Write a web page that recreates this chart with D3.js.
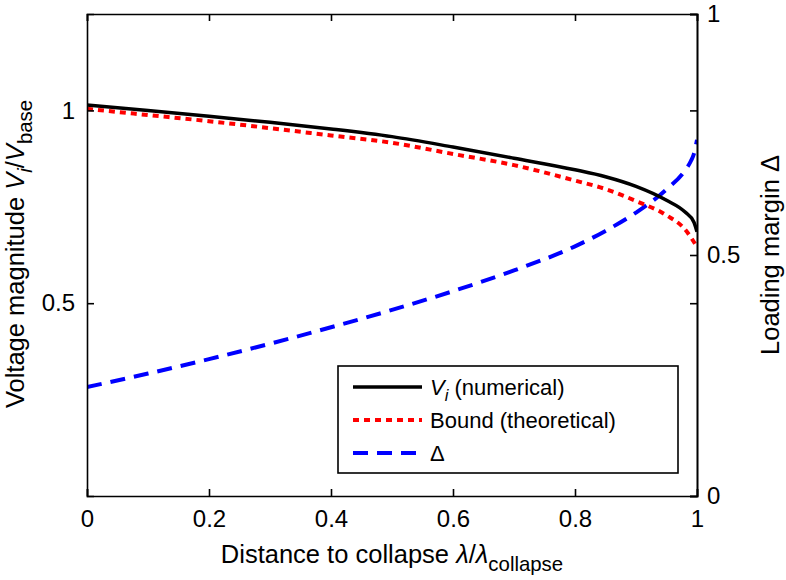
<!DOCTYPE html>
<html>
<head>
<meta charset="utf-8">
<script src="https://cdn.jsdelivr.net/npm/d3@7"></script>
<style>
  html, body { margin: 0; padding: 0; background: #fff; }
  svg { display: block; font-family: "Liberation Sans", Arial, Helvetica, sans-serif; }
</style>
</head>
<body>
<svg id="chart" width="786" height="580"></svg>
<script>
// ---- Data ----
const lambdaVi   = [0, 0.1, 0.2, 0.3, 0.4, 0.5, 0.6, 0.7, 0.8, 0.85, 0.9, 0.95, 0.98, 0.995, 1.0];
const viNumeric  = [1.014, 1.000, 0.985, 0.969, 0.952, 0.932, 0.905, 0.876, 0.846, 0.828, 0.803, 0.767, 0.737, 0.71, 0.685];
const lambdaB    = [0, 0.1, 0.2, 0.3, 0.4, 0.5, 0.6, 0.7, 0.8, 0.85, 0.9, 0.95, 0.98, 1.0];
const boundTheo  = [1.004, 0.988, 0.972, 0.954, 0.935, 0.916, 0.887, 0.858, 0.818, 0.796, 0.765, 0.728, 0.692, 0.646];
const lambdaD    = [0, 0.1, 0.2, 0.3, 0.4, 0.5, 0.6, 0.7, 0.8, 0.85, 0.9, 0.95, 0.98, 0.99, 0.995, 1.0];
const deltaMargin= [0.226, 0.254, 0.284, 0.316, 0.350, 0.386, 0.425, 0.468, 0.518, 0.550, 0.588, 0.636, 0.675, 0.695, 0.710, 0.739];

const xTicks      = [0, 0.2, 0.4, 0.6, 0.8, 1];
const xTickLabels = ["0", "0.2", "0.4", "0.6", "0.8", "1"];
const yLeftTicks  = [0.5, 1];
const yLeftLabels = ["0.5", "1"];
const yRightTicks = [0, 0.5, 1];
const yRightLabels= ["0", "0.5", "1"];
const legendLabels = ["V_i (numerical)", "Bound (theoretical)", "Δ"];

// ---- Layout ----
const svg = d3.select("#chart");
const L = 87, R = 697, T = 14, B = 496;
const FS_TICK = 24, FS_LAB = 25.5, FS_LEG = 22;
const SUB = 0.8;
const x  = d3.scaleLinear().domain([0, 1]).range([L, R]);
const yL = d3.scaleLinear().domain([0, 1.25]).range([B, T]);
const yR = d3.scaleLinear().domain([0, 1]).range([B, T]);

const tickLen = 7;
const axisColor = "#000";

const lineGen = (ys) => d3.line().x(d => x(d[0])).y(d => ys(d[1])).curve(d3.curveMonotoneX);

svg.append("defs").append("clipPath").attr("id", "clip")
  .append("rect").attr("x", L).attr("y", T).attr("width", R - L).attr("height", B - T);

const plot = svg.append("g").attr("clip-path", "url(#clip)");

plot.append("path")
  .datum(lambdaD.map((v, i) => [v, deltaMargin[i]]))
  .attr("d", lineGen(yR))
  .attr("fill", "none").attr("stroke", "#0000ff").attr("stroke-width", 4)
  .attr("stroke-dasharray", "15,9");

plot.append("path")
  .datum(lambdaB.map((v, i) => [v, boundTheo[i]]))
  .attr("d", lineGen(yL))
  .attr("fill", "none").attr("stroke", "#ff0000").attr("stroke-width", 4)
  .attr("stroke-dasharray", "6,5");

plot.append("path")
  .datum(lambdaVi.map((v, i) => [v, viNumeric[i]]))
  .attr("d", lineGen(yL))
  .attr("fill", "none").attr("stroke", "#000").attr("stroke-width", 3.5);

// ---- Axes ----
const gx = svg.append("g").attr("transform", `translate(0,${B})`)
  .call(d3.axisBottom(x).tickValues(xTicks).tickFormat((d, i) => xTickLabels[i]).tickSize(-tickLen).tickPadding(14));
const gxt = svg.append("g").attr("transform", `translate(0,${T})`)
  .call(d3.axisTop(x).tickValues(xTicks).tickFormat("").tickSize(-tickLen));
const gyl = svg.append("g").attr("transform", `translate(${L},0)`)
  .call(d3.axisLeft(yL).tickValues(yLeftTicks).tickFormat((d, i) => yLeftLabels[i]).tickSize(-tickLen).tickPadding(12));
const gyr = svg.append("g").attr("transform", `translate(${R},0)`)
  .call(d3.axisRight(yR).tickValues(yRightTicks).tickFormat((d, i) => yRightLabels[i]).tickSize(-tickLen).tickPadding(10));
const gyl2 = svg.append("g").attr("transform", `translate(${R},0)`)
  .call(d3.axisRight(yL).tickValues(yLeftTicks).tickFormat("").tickSize(-tickLen));

[gx, gxt, gyl, gyr, gyl2].forEach(g => {
  g.select(".domain").attr("stroke", axisColor).attr("stroke-width", 1.6);
  g.selectAll(".tick line").attr("stroke", axisColor).attr("stroke-width", 1.6);
  g.selectAll(".tick text").attr("fill", "#000").attr("font-size", FS_TICK)
    .attr("font-family", "Liberation Sans, Arial, sans-serif");
});
gx.selectAll(".tick text").attr("dy", "0.71em");

// ---- Axis titles ----
const xt = svg.append("text").attr("x", (L + R) / 2).attr("y", 563)
  .attr("text-anchor", "middle").attr("font-size", FS_LAB).attr("fill", "#000");
xt.append("tspan").text("Distance to collapse ");
xt.append("tspan").attr("font-style", "italic").text("λ");
xt.append("tspan").text("/");
xt.append("tspan").attr("font-style", "italic").text("λ");
xt.append("tspan").attr("font-size", FS_LAB * SUB).attr("dy", 8).text("collapse");

const ylt = svg.append("text")
  .attr("transform", `translate(24,254) rotate(-90)`)
  .attr("text-anchor", "middle").attr("font-size", FS_LAB).attr("fill", "#000");
ylt.append("tspan").text("Voltage magnitude ");
ylt.append("tspan").attr("font-style", "italic").text("V");
ylt.append("tspan").attr("font-style", "italic").attr("font-size", FS_LAB * SUB).attr("dy", 8).text("i");
ylt.append("tspan").attr("dy", -8).text("/");
ylt.append("tspan").attr("font-style", "italic").text("V");
ylt.append("tspan").attr("font-size", FS_LAB * SUB).attr("dy", 8).text("base");

svg.append("text")
  .attr("transform", `translate(779,255) rotate(-90)`)
  .attr("text-anchor", "middle").attr("font-size", FS_LAB).attr("fill", "#000")
  .text("Loading margin Δ");

// ---- Legend ----
const lg = svg.append("g");
lg.append("rect").attr("x", 338).attr("y", 366).attr("width", 340).attr("height", 107)
  .attr("fill", "#fff").attr("stroke", "#000").attr("stroke-width", 1.6);
const legendStyles = [
  { color: "#000", dash: null, w: 3.5 },
  { color: "#ff0000", dash: "6,5", w: 4 },
  { color: "#0000ff", dash: "15,9", w: 4 }
];
const rowsY = [387, 420, 453];
legendStyles.forEach((s, i) => {
  lg.append("line").attr("x1", 353).attr("x2", 422).attr("y1", rowsY[i]).attr("y2", rowsY[i])
    .attr("stroke", s.color).attr("stroke-width", s.w)
    .attr("stroke-dasharray", s.dash);
  const t = lg.append("text").attr("x", 430).attr("y", rowsY[i] + 8)
    .attr("font-size", FS_LEG).attr("fill", "#000");
  if (i === 0) {
    t.append("tspan").attr("font-style", "italic").text("V");
    t.append("tspan").attr("font-style", "italic").attr("font-size", FS_LEG * 0.75).attr("dy", 6).text("i");
    t.append("tspan").attr("dy", -6).text(" (numerical)");
  } else {
    t.text(legendLabels[i]);
  }
});
</script>
</body>
</html>
